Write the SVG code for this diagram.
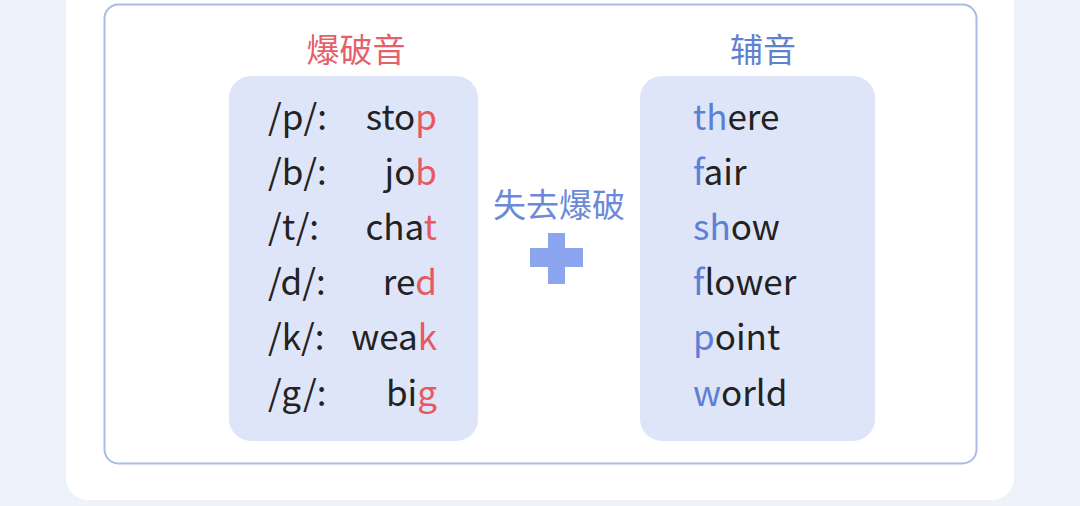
<svg xmlns="http://www.w3.org/2000/svg" width="1080" height="506" viewBox="0 0 1080 506">
<style>
text{font-family:"Noto Sans CJK SC","Noto Sans",sans-serif;font-variant-ligatures:none;}
.w{font-size:35px;fill:#222;}
.r{fill:#e8585f;}
.b{fill:#5b80d6;}
.box{fill:#dfe5f8;}
.ttl{font-size:33px;text-anchor:middle;}
</style>
<rect x="0" y="0" width="1080" height="506" fill="#eef2fa"/>
<rect x="66" y="-30" width="948" height="530" rx="22" fill="#ffffff"/>
<rect x="104.5" y="4.5" width="872" height="459" rx="14" fill="none" stroke="#a9bce6" stroke-width="2"/>
<g id="left">
<text class="ttl" x="356" y="62" fill="#e5606a">爆破音</text>
<rect class="box" x="229" y="76" width="249" height="365" rx="22"/>
<g class="w">
<text x="268" y="130">/p/:</text><text x="437" y="130" text-anchor="end">sto<tspan class="r">p</tspan></text>
<text x="268" y="185">/b/:</text><text x="437" y="185" text-anchor="end">jo<tspan class="r">b</tspan></text>
<text x="268" y="240">/t/:</text><text x="437" y="240" text-anchor="end">cha<tspan class="r">t</tspan></text>
<text x="268" y="295">/d/:</text><text x="437" y="295" text-anchor="end">re<tspan class="r">d</tspan></text>
<text x="268" y="350">/k/:</text><text x="437" y="350" text-anchor="end">wea<tspan class="r">k</tspan></text>
<text x="268" y="406">/g/:</text><text x="437" y="406" text-anchor="end">bi<tspan class="r">g</tspan></text>
</g>
</g>
<g id="middle">
<text class="ttl" x="559" y="217" fill="#6a8ad8">失去爆破</text>
<rect x="548" y="233" width="17" height="51" fill="#8ba6ee"/>
<rect x="530" y="248" width="53" height="19" fill="#8ba6ee"/>
</g>
<g id="right">
<text class="ttl" x="763" y="62" fill="#5f82d0">辅音</text>
<rect class="box" x="640" y="76" width="235" height="365" rx="22"/>
<g class="w">
<text x="693" y="130"><tspan class="b">th</tspan>ere</text>
<text x="693" y="185"><tspan class="b">f</tspan>air</text>
<text x="693" y="240"><tspan class="b">sh</tspan>ow</text>
<text x="693" y="295"><tspan class="b">f</tspan>lower</text>
<text x="693" y="350"><tspan class="b">p</tspan>oint</text>
<text x="693" y="406"><tspan class="b">w</tspan>orld</text>
</g>
</g>
</svg>
